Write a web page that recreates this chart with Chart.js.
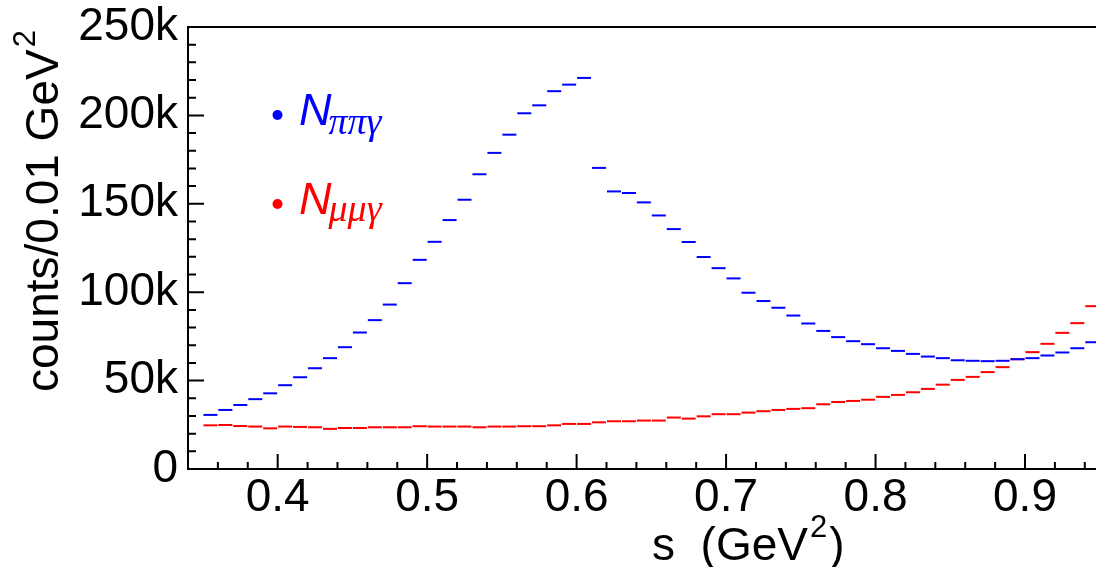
<!DOCTYPE html>
<html>
<head>
<meta charset="utf-8">
<script src="https://cdn.jsdelivr.net/npm/chart.js@4"></script>
<style>
  html, body { margin: 0; padding: 0; background: #fff; }
  canvas { display: block; }
</style>
</head>
<body>
<canvas id="chart" width="1096" height="567"></canvas>
<script>
// bin centres, s in GeV^2 (bin width 0.01)
const sBins = [
  0.355, 0.365, 0.375, 0.385, 0.395, 0.405, 0.415, 0.425, 0.435, 0.445,
  0.455, 0.465, 0.475, 0.485, 0.495, 0.505, 0.515, 0.525, 0.535, 0.545,
  0.555, 0.565, 0.575, 0.585, 0.595, 0.605, 0.615, 0.625, 0.635, 0.645,
  0.655, 0.665, 0.675, 0.685, 0.695, 0.705, 0.715, 0.725, 0.735, 0.745,
  0.755, 0.765, 0.775, 0.785, 0.795, 0.805, 0.815, 0.825, 0.835, 0.845,
  0.855, 0.865, 0.875, 0.885, 0.895, 0.905, 0.915, 0.925, 0.935, 0.945
];

// counts / 0.01 GeV^2, in thousands
const nPiPiGamma = [
  30.6, 33.4, 36.2, 39.5, 42.8, 47.4, 51.9, 57.0, 62.7, 68.9,
  77.2, 84.2, 93.0, 105.1, 118.3, 128.5, 140.8, 152.3, 166.7, 178.8,
  189.1, 201.2, 205.7, 213.7, 217.4, 221.2, 170.3, 157.0, 156.1, 150.8,
  143.4, 135.7, 128.4, 119.9, 113.6, 107.8, 99.7, 95.0, 91.2, 86.8,
  82.3, 78.1, 74.6, 72.3, 70.6, 68.3, 66.8, 65.1, 63.6, 62.7,
  61.5, 61.2, 61.0, 61.2, 62.1, 62.7, 64.2, 65.9, 68.3, 71.7
];
const nMuMuGamma = [
  24.7, 24.9, 24.3, 24.0, 23.0, 24.0, 23.8, 23.6, 22.7, 23.2,
  23.2, 23.6, 23.6, 23.6, 24.2, 24.0, 24.0, 24.0, 23.6, 24.0,
  24.0, 24.2, 24.2, 24.7, 25.5, 25.5, 26.4, 27.0, 27.0, 27.4,
  27.4, 29.1, 28.5, 29.8, 31.0, 31.0, 31.9, 32.7, 33.4, 34.0,
  34.4, 36.6, 37.9, 38.5, 39.2, 40.8, 41.9, 43.4, 45.3, 47.7,
  50.4, 52.1, 54.8, 57.6, 62.1, 66.1, 70.8, 77.0, 82.5, 92.1
];

const xMajor = [0.4, 0.5, 0.6, 0.7, 0.8, 0.9];
const xMinor = [0.36, 0.38, 0.42, 0.44, 0.46, 0.48, 0.52, 0.54, 0.56, 0.58,
                0.62, 0.64, 0.66, 0.68, 0.72, 0.74, 0.76, 0.78, 0.82, 0.84,
                0.86, 0.88, 0.92, 0.94];
const yMajor = [50000, 100000, 150000, 200000];
const yMinor = [10000, 20000, 30000, 40000, 60000, 70000, 80000, 90000,
                110000, 120000, 130000, 140000, 160000, 170000, 180000, 190000,
                210000, 220000, 230000, 240000];

const BLUE = '#0000ff';
const RED = '#ff0000';
const FONT = '"Liberation Sans", Arial, Helvetica, sans-serif';

function toPoints(vals){
  return sBins.map((s, i) => ({ x: s, y: vals[i] * 1000 }));
}

// ROOT style frame: inner ticks, top border, titles, legend
const frameDecor = {
  id: 'frameDecor',
  afterDraw(chart){
    const ctx = chart.ctx;
    const area = chart.chartArea;
    const xs = chart.scales.x, ys = chart.scales.y;
    ctx.save();
    ctx.strokeStyle = '#000';
    ctx.lineWidth = 2;
    ctx.beginPath();
    xMajor.forEach(v => { const p = xs.getPixelForValue(v); ctx.moveTo(p, area.bottom); ctx.lineTo(p, area.bottom - 15); });
    xMinor.forEach(v => { const p = xs.getPixelForValue(v); ctx.moveTo(p, area.bottom); ctx.lineTo(p, area.bottom - 7); });
    yMajor.forEach(v => { const p = ys.getPixelForValue(v); ctx.moveTo(area.left, p); ctx.lineTo(area.left + 16, p); });
    yMinor.forEach(v => { const p = ys.getPixelForValue(v); ctx.moveTo(area.left, p); ctx.lineTo(area.left + 8, p); });
    // top border
    ctx.moveTo(area.left - 1, area.top);
    ctx.lineTo(area.right, area.top);
    ctx.stroke();

    // axis titles
    ctx.fillStyle = '#000';
    ctx.textBaseline = 'alphabetic';
    ctx.textAlign = 'left';
    ctx.font = '46px ' + FONT;
    const xt = 's  (GeV';
    ctx.fillText(xt, 652, 560);
    let w = ctx.measureText(xt).width;
    ctx.font = '31px ' + FONT;
    ctx.fillText('2', 652 + w + 2, 537);
    let w2 = ctx.measureText('2').width;
    ctx.font = '46px ' + FONT;
    ctx.fillText(')', 652 + w + w2 + 4, 560);

    ctx.save();
    ctx.translate(58, 392);
    ctx.rotate(-Math.PI / 2);
    const yt = 'counts/0.01 GeV';
    ctx.fillText(yt, 0, 0);
    w = ctx.measureText(yt).width;
    ctx.font = '31px ' + FONT;
    ctx.fillText('2', w + 2, -23);
    ctx.restore();

    // legend
    const entries = [
      { color: BLUE, sub: 'ππγ', y: 115, sy: 9 },
      { color: RED, sub: 'μμγ', y: 204, sy: 7 }
    ];
    entries.forEach(e => {
      ctx.fillStyle = e.color;
      ctx.beginPath();
      ctx.arc(277.5, e.y, 5, 0, Math.PI * 2);
      ctx.fill();
      ctx.font = 'italic 45px ' + FONT;
      ctx.fillText('N', 299, e.y + 10);
      const nw = ctx.measureText('N').width;
      ctx.font = 'italic 38px "Liberation Serif", "DejaVu Serif", serif';
      ctx.fillText(e.sub, 299 + nw - 3, e.y + 10 + e.sy);
    });
    ctx.restore();
  }
};

new Chart(document.getElementById('chart'), {
  type: 'scatter',
  data: {
    datasets: [
      {
        label: 'N_ππγ',
        data: toPoints(nPiPiGamma),
        pointStyle: 'line',
        pointRadius: 7,
        pointBorderWidth: 2,
        borderColor: BLUE,
        backgroundColor: BLUE
      },
      {
        label: 'N_μμγ',
        data: toPoints(nMuMuGamma),
        pointStyle: 'line',
        pointRadius: 7,
        pointBorderWidth: 2,
        borderColor: RED,
        backgroundColor: RED
      }
    ]
  },
  options: {
    responsive: false,
    animation: false,
    events: [],
    layout: { autoPadding: false, padding: { left: 0, top: 27, right: 0, bottom: 0 } },
    plugins: {
      legend: { display: false },
      tooltip: { enabled: false },
      title: { display: false }
    },
    scales: {
      x: {
        type: 'linear',
        min: 0.34,
        max: 0.9475,
        afterBuildTicks: axis => { axis.ticks = xMajor.map(v => ({ value: v })); },
        afterFit: axis => { axis.height = 98; axis.paddingLeft = 0; axis.paddingRight = 0; },
        grid: { display: false, drawTicks: false },
        border: { display: true, color: '#000', width: 2 },
        ticks: {
          autoSkip: false,
          maxRotation: 0,
          padding: 2,
          color: '#000',
          font: { family: FONT, size: 46 },
          callback: v => v.toFixed(1)
        }
      },
      y: {
        min: 0,
        max: 250000,
        afterFit: axis => { axis.width = 188; axis.paddingTop = 0; axis.paddingBottom = 0; },
        grid: { display: false, drawTicks: false },
        border: { display: true, color: '#000', width: 2 },
        ticks: {
          stepSize: 50000,
          padding: 10,
          color: '#000',
          font: { family: FONT, size: 46 },
          callback: v => v === 0 ? '0' : (v / 1000) + 'k'
        }
      }
    }
  },
  plugins: [frameDecor]
});
</script>
</body>
</html>
